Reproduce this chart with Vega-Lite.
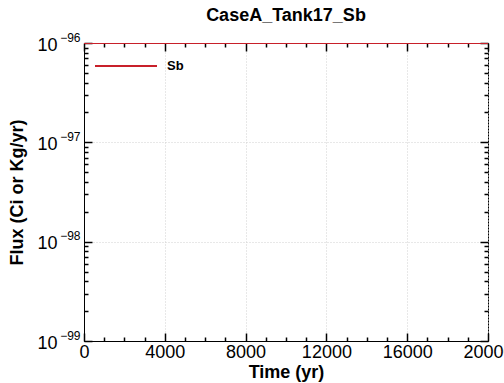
{
  "$schema": "https://vega.github.io/schema/vega-lite/v6.json",
  "width": 404,
  "height": 298,
  "autosize": "none",
  "padding": {"left": 84, "top": 43, "right": 16, "bottom": 42},
  "background": "white",
  "title": {
    "text": "CaseA_Tank17_Sb",
    "font": "Liberation Sans",
    "fontSize": 18,
    "fontWeight": "bold",
    "color": "black",
    "anchor": "middle",
    "offset": 6
  },
  "config": {
    "view": {"stroke": "black", "strokeWidth": 1},
    "axis": {
      "domainColor": "black",
      "labelFont": "Liberation Sans",
      "labelColor": "black",
      "titleFont": "Liberation Sans",
      "titleColor": "black",
      "titleFontWeight": "bold",
      "gridColor": "#d0d0d0",
      "gridDash": [1, 2],
      "labelFlush": false,
      "labelOverlap": false
    }
  },
  "data": {
    "values": [
      {"time": 0, "flux": 0, "series": "Sb"},
      {"time": 20000, "flux": 0, "series": "Sb"}
    ]
  },
  "layer": [
    {
      "mark": {"type": "line", "strokeWidth": 2, "clip": true},
      "encoding": {
        "x": {
          "field": "time",
          "type": "quantitative",
          "scale": {"domain": [0, 20000], "nice": false, "zero": false},
          "axis": {
            "orient": "bottom",
            "title": "Time (yr)",
            "titleFontSize": 18,
            "titlePadding": 2,
            "values": [0, 4000, 8000, 12000, 16000, 20000],
            "format": "d",
            "labelFontSize": 18,
            "labelPadding": 2,
            "ticks": false,
            "tickSize": 0,
            "grid": true
          }
        },
        "y": {
          "field": "flux",
          "type": "quantitative",
          "scale": {"type": "log", "domain": [1e-99, 1e-96], "nice": false},
          "axis": {
            "orient": "left",
            "title": "Flux (Ci or Kg/yr)",
            "titleFontSize": 18,
            "titlePadding": 10,
            "values": [1e-99, 1e-98, 1e-97, 1e-96],
            "labelExpr": "'10'",
            "labelFontSize": 18,
            "labelPadding": 27,
            "labelOffset": 2,
            "ticks": false,
            "tickSize": 0,
            "grid": true
          }
        },
        "color": {
          "field": "series",
          "type": "nominal",
          "scale": {"domain": ["Sb"], "range": ["#c8202a"]},
          "legend": {
            "title": null,
            "orient": "none",
            "legendX": 10,
            "legendY": -9,
            "padding": 0,
            "symbolType": "stroke",
            "symbolSize": 3844,
            "symbolStrokeWidth": 2,
            "labelFont": "Liberation Sans",
            "labelFontWeight": "bold",
            "labelFontSize": 13,
            "labelColor": "black",
            "labelOffset": 9
          }
        }
      }
    },
    {
      "mark": {"type": "line", "opacity": 0, "clip": true},
      "encoding": {
        "x": {
          "field": "time",
          "type": "quantitative",
          "axis": {
            "orient": "bottom",
            "title": null,
            "domain": false,
            "offset": -8,
            "values": [0, 4000, 8000, 12000, 16000, 20000],
            "labels": false,
            "grid": false,
            "ticks": true,
            "tickColor": "black",
            "tickWidth": 1.5,
            "tickSize": 8
          }
        },
        "y": {
          "field": "flux",
          "type": "quantitative",
          "axis": {
            "orient": "left",
            "title": null,
            "domain": false,
            "values": [1e-99, 1e-98, 1e-97, 1e-96],
            "labelExpr": "format(round(log(datum.value)/LN10), 'd')",
            "labelFontSize": 12,
            "labelPadding": 4,
            "labelOffset": -6,
            "grid": false,
            "ticks": false,
            "tickSize": 0
          }
        }
      }
    },
    {
      "mark": {"type": "line", "opacity": 0, "clip": true},
      "encoding": {
        "x": {
          "field": "time",
          "type": "quantitative",
          "axis": {
            "orient": "bottom",
            "title": null,
            "domain": false,
            "offset": -4,
            "values": [1000,2000,3000,5000,6000,7000,9000,10000,11000,13000,14000,15000,17000,18000,19000],
            "labels": false,
            "grid": false,
            "ticks": true,
            "tickColor": "black",
            "tickWidth": 1.5,
            "tickSize": 4
          }
        },
        "y": {
          "field": "flux",
          "type": "quantitative",
          "axis": {
            "orient": "left",
            "title": null,
            "domain": false,
            "offset": -8,
            "values": [1e-99, 1e-98, 1e-97, 1e-96],
            "labels": false,
            "grid": false,
            "ticks": true,
            "tickColor": "black",
            "tickWidth": 1.5,
            "tickSize": 8
          }
        }
      }
    },
    {
      "mark": {"type": "line", "opacity": 0, "clip": true},
      "encoding": {
        "x": {
          "field": "time",
          "type": "quantitative",
          "axis": {
            "orient": "top",
            "title": null,
            "domain": false,
            "offset": -8,
            "values": [0, 4000, 8000, 12000, 16000, 20000],
            "labels": false,
            "grid": false,
            "ticks": true,
            "tickColor": "black",
            "tickWidth": 1.5,
            "tickSize": 8
          }
        },
        "y": {
          "field": "flux",
          "type": "quantitative",
          "axis": {
            "orient": "left",
            "title": null,
            "domain": false,
            "offset": -4,
            "values": [2e-99,3e-99,4e-99,5e-99,6e-99,7e-99,8e-99,9e-99,2e-98,3e-98,4e-98,5e-98,6e-98,7e-98,8e-98,9e-98,2e-97,3e-97,4e-97,5e-97,6e-97,7e-97,8e-97,9e-97],
            "labels": false,
            "grid": false,
            "ticks": true,
            "tickColor": "black",
            "tickWidth": 1.5,
            "tickSize": 4
          }
        }
      }
    },
    {
      "mark": {"type": "line", "opacity": 0, "clip": true},
      "encoding": {
        "x": {
          "field": "time",
          "type": "quantitative",
          "axis": {
            "orient": "top",
            "title": null,
            "domain": false,
            "offset": -4,
            "values": [1000,2000,3000,5000,6000,7000,9000,10000,11000,13000,14000,15000,17000,18000,19000],
            "labels": false,
            "grid": false,
            "ticks": true,
            "tickColor": "black",
            "tickWidth": 1.5,
            "tickSize": 4
          }
        },
        "y": {
          "field": "flux",
          "type": "quantitative",
          "axis": {
            "orient": "right",
            "title": null,
            "domain": false,
            "offset": -8,
            "values": [1e-99, 1e-98, 1e-97, 1e-96],
            "labels": false,
            "grid": false,
            "ticks": true,
            "tickColor": "black",
            "tickWidth": 1.5,
            "tickSize": 8
          }
        }
      }
    },
    {
      "mark": {"type": "line", "opacity": 0, "clip": true},
      "encoding": {
        "x": {
          "field": "time",
          "type": "quantitative",
          "axis": null
        },
        "y": {
          "field": "flux",
          "type": "quantitative",
          "axis": {
            "orient": "right",
            "title": null,
            "domain": false,
            "offset": -4,
            "values": [2e-99,3e-99,4e-99,5e-99,6e-99,7e-99,8e-99,9e-99,2e-98,3e-98,4e-98,5e-98,6e-98,7e-98,8e-98,9e-98,2e-97,3e-97,4e-97,5e-97,6e-97,7e-97,8e-97,9e-97],
            "labels": false,
            "grid": false,
            "ticks": true,
            "tickColor": "black",
            "tickWidth": 1.5,
            "tickSize": 4
          }
        }
      }
    }
  ],
  "resolve": {"axis": {"x": "independent", "y": "independent"}}
}
